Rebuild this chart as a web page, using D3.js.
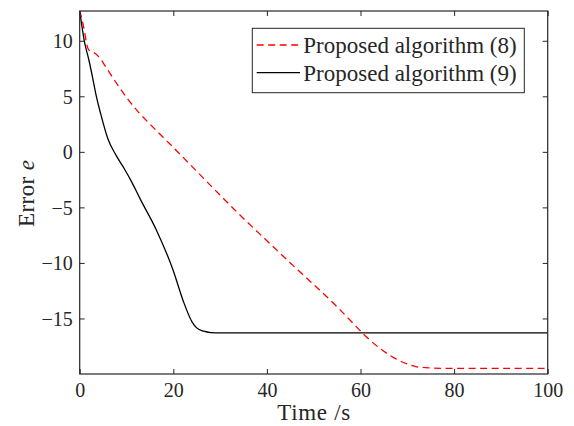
<!DOCTYPE html>
<html>
<head>
<meta charset="utf-8">
<script src="https://cdn.jsdelivr.net/npm/d3@7"></script>
<style>
  html, body { margin: 0; padding: 0; background: #fff; }
  svg { display: block; }
</style>
</head>
<body>
<svg id="chart" width="574" height="426" font-family="Liberation Serif">
</svg>
<script>
// ---- data ----
const seriesNames = ["Proposed algorithm (8)", "Proposed algorithm (9)"];
const timeA = [0, 0.5, 1, 1.5, 2, 2.8, 4, 5.5, 7.5, 10, 12.5, 15, 20, 25, 30, 35, 40, 45, 50, 55, 58, 61, 64, 67, 70, 72, 75, 80, 90, 100];
const errorA = [12.7, 11.9, 10.9, 9.7, 9.15, 9.0, 8.6, 7.7, 6.4, 4.9, 3.6, 2.5, 0.4, -1.75, -3.9, -6.0, -8.0, -10.0, -11.95, -13.95, -15.25, -16.55, -17.65, -18.5, -19.1, -19.35, -19.45, -19.5, -19.5, -19.5];
const timeB = [0, 1, 2, 2.8, 3.5, 4.5, 6, 7.75, 9.5, 11.1, 13, 16.4, 20, 22.1, 24, 25, 26.5, 28, 30, 40, 100];
const errorB = [12.7, 9.95, 8.2, 6.6, 5.1, 3.4, 1.2, -0.3, -1.5, -2.7, -4.3, -7.05, -10.7, -13.4, -15.3, -15.85, -16.15, -16.27, -16.3, -16.3, -16.3];
const xTicks = [0, 20, 40, 60, 80, 100];
const yTicks = [-15, -10, -5, 0, 5, 10];
const xDomain = [0, 100];
const yDomain = [-20, 12.68];
const xLabel = "Time /s";

// ---- layout ----
const FONT = "'Liberation Serif'";
const svg = d3.select("#chart");
const L = 79.7, R = 547.7, T = 11, B = 374;
const x = d3.scaleLinear().domain(xDomain).range([L, R]);
const y = d3.scaleLinear().domain(yDomain).range([B, T]);
const axisColor = "#262626";

const g = svg.append("g");

svg.append("defs").append("clipPath").attr("id", "clip")
  .append("rect").attr("x", L).attr("y", T).attr("width", R - L).attr("height", B - T);

const line = d3.line().x(d => x(d[0])).y(d => y(d[1])).curve(d3.curveMonotoneX);
const dataA = timeA.map((t, i) => [t, errorA[i]]);
const dataB = timeB.map((t, i) => [t, errorB[i]]);

const lines = g.append("g").attr("clip-path", "url(#clip)");
lines.append("path").datum(dataB).attr("d", line)
  .attr("fill", "none").attr("stroke", "#000").attr("stroke-width", 1.3);
lines.append("path").datum(dataA).attr("d", line)
  .attr("fill", "none").attr("stroke", "#ff0000").attr("stroke-width", 1.3)
  .attr("stroke-dasharray", "7,4.5");

const tickLen = 5;
function styleAxis(sel) {
  sel.attr("font-family", null).style("font-family", FONT);
  sel.selectAll(".domain").remove();
  sel.selectAll(".tick line").attr("stroke", axisColor).attr("stroke-width", 1);
}
const fs = 20;
const xb = g.append("g").attr("transform", `translate(0,${B})`)
  .call(d3.axisBottom(x).tickValues(xTicks).tickSize(-tickLen).tickFormat(d3.format("d")));
styleAxis(xb);
xb.selectAll(".tick text").attr("font-size", fs).attr("fill", axisColor)
  .style("font-family", FONT).attr("dy", null).attr("y", 23);
const xt = g.append("g").attr("transform", `translate(0,${T})`)
  .call(d3.axisTop(x).tickValues(xTicks).tickSize(-tickLen).tickFormat(""));
styleAxis(xt);

const minusFmt = d => (d < 0 ? "\u2212" + Math.abs(d) : String(d));
const yl = g.append("g").attr("transform", `translate(${L},0)`)
  .call(d3.axisLeft(y).tickValues(yTicks).tickSize(-tickLen).tickFormat(minusFmt));
styleAxis(yl);
yl.selectAll(".tick text").attr("font-size", fs).attr("fill", axisColor)
  .style("font-family", FONT).attr("x", -7).attr("dy", "0.34em");
const yr = g.append("g").attr("transform", `translate(${R},0)`)
  .call(d3.axisRight(y).tickValues(yTicks).tickSize(-tickLen).tickFormat(""));
styleAxis(yr);

g.append("rect").attr("x", L).attr("y", T).attr("width", R - L).attr("height", B - T)
  .attr("fill", "none").attr("stroke", axisColor).attr("stroke-width", 1.2);

// axis labels
g.append("text").attr("x", (L + R) / 2).attr("y", 420).attr("text-anchor", "middle")
  .attr("font-size", 23).attr("fill", axisColor).style("font-family", FONT)
  .attr("textLength", 73).attr("lengthAdjust", "spacing").text(xLabel);
const ylab = g.append("text").attr("transform", `translate(34,193.5) rotate(-90)`)
  .attr("text-anchor", "middle").attr("font-size", 23).attr("fill", axisColor)
  .style("font-family", FONT).attr("textLength", 67).attr("lengthAdjust", "spacing");
ylab.append("tspan").text("Error ");
ylab.append("tspan").attr("font-style", "italic").text("e");

// legend
const lx = 252.3, ly = 28.3, lw = 272, lh = 64.4;
const leg = g.append("g");
leg.append("rect").attr("x", lx).attr("y", ly).attr("width", lw).attr("height", lh)
  .attr("fill", "#fff").attr("stroke", axisColor).attr("stroke-width", 1);
const legRows = [
  { name: seriesNames[0], color: "#ff0000", dash: "7,4.5", cy: 45, by: 53.3 },
  { name: seriesNames[1], color: "#000", dash: null, cy: 72.7, by: 81 }
];
legRows.forEach(r => {
  leg.append("line").attr("x1", lx + 4.4).attr("x2", 300).attr("y1", r.cy).attr("y2", r.cy)
    .attr("stroke", r.color).attr("stroke-width", 1.3).attr("stroke-dasharray", r.dash);
  leg.append("text").attr("x", 303.3).attr("y", r.by).attr("font-size", 23).attr("fill", axisColor)
    .style("font-family", FONT).text(r.name);
});
</script>
</body>
</html>
